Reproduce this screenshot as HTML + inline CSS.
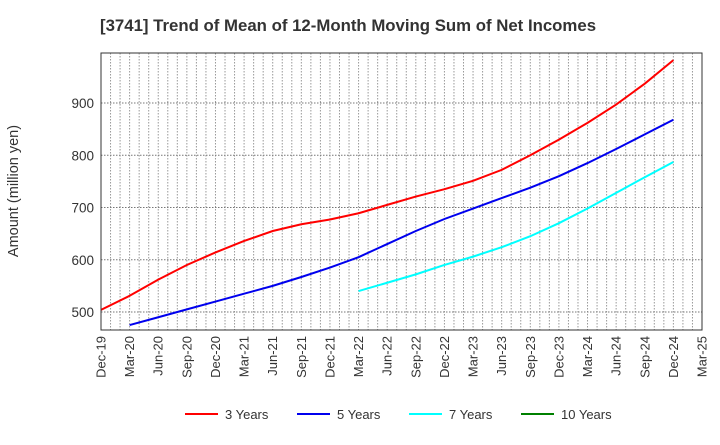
<!DOCTYPE html>
<html><head><meta charset="utf-8"><style>
body{margin:0;background:#fff;font-family:"Liberation Sans",sans-serif}
</style></head><body>
<svg id="chart" width="720" height="440" font-family="Liberation Sans, sans-serif">
<text x="100" y="31" font-size="16.8" font-weight="bold" fill="#333">[3741]  Trend of Mean of 12-Month Moving Sum of Net Incomes</text>
<text transform="translate(18,191) rotate(-90)" text-anchor="middle" font-size="14.5" fill="#333">Amount (million yen)</text>
<g id="grid"></g><g id="series"></g><g id="axes"></g>
<g id="legend"></g>
</svg>
<script>
const xLabels=["Dec-19","Mar-20","Jun-20","Sep-20","Dec-20","Mar-21","Jun-21","Sep-21","Dec-21","Mar-22","Jun-22","Sep-22","Dec-22","Mar-23","Jun-23","Sep-23","Dec-23","Mar-24","Jun-24","Sep-24","Dec-24","Mar-25"];
const yTicks=[500,600,700,800,900];
const s3=[504,531,562,590,614,636,655,668,677,689,705,721,735,751,772,800,830,862,897,937,982];
const s5=[null,475,490,505,520,535,550,567,585,605,630,655,678,698,718,738,760,785,812,840,868];
const s7=[null,null,null,null,null,null,null,null,null,540,556,572,590,606,624,645,670,698,728,758,787];
const s10=[];
const L=101,R=702,T=53,B=330;
const NS="http://www.w3.org/2000/svg";
const xq=i=>L+i*3*(R-L)/63, xm=m=>L+m*(R-L)/63;
const y=v=>312-(v-500)*0.5225;
function mk(tag,at,parent){const e=document.createElementNS(NS,tag);for(const k in at)e.setAttribute(k,at[k]);parent.appendChild(e);return e;}
const grid=document.getElementById('grid'),axes=document.getElementById('axes'),ser=document.getElementById('series'),leg=document.getElementById('legend');
for(let m=1;m<63;m++){const g=mk('line',{x1:xm(m),x2:xm(m),y1:T,y2:B,stroke:'#999','stroke-dasharray':'1.5,1.5','stroke-width':1},grid);

}
yTicks.forEach(v=>{const g=mk('line',{x1:L,x2:R,y1:y(v),y2:y(v),stroke:'#777','stroke-dasharray':'1.5,1.5'},grid);


const t=mk('text',{x:L-7,y:y(v)+5,'text-anchor':'end','font-size':13.5,fill:'#333'},axes);t.textContent=v;

});
const fr=mk('rect',{x:L,y:T,width:R-L,height:B-T,fill:'none',stroke:'#333','stroke-width':1},axes);


xLabels.forEach((lb,i)=>{const t=mk('text',{transform:`translate(${xq(i)+4.5},${B+6}) rotate(-90)`,'text-anchor':'end','font-size':13,fill:'#333'},axes);t.textContent=lb;

});
const series=[[s3,'#ff0000','3 Years'],[s5,'#0000ee','5 Years'],[s7,'#00ffff','7 Years'],[s10,'#008000','10 Years']];
series.forEach(([d,c,n],k)=>{const pts=[];d.forEach((v,i)=>{if(v!=null)pts.push(xq(i)+','+y(v));});
if(pts.length){const p=mk('polyline',{points:pts.join(' '),fill:'none',stroke:c,'stroke-width':2},ser);

}
const lx=[185,297,409,521][k];
const ll=mk('line',{x1:lx,x2:lx+33,y1:414,y2:414,stroke:c,'stroke-width':2},leg);


const lt=mk('text',{x:lx+40,y:419,'font-size':13,fill:'#333'},leg);lt.textContent=n;

});
</script>
</body></html>
